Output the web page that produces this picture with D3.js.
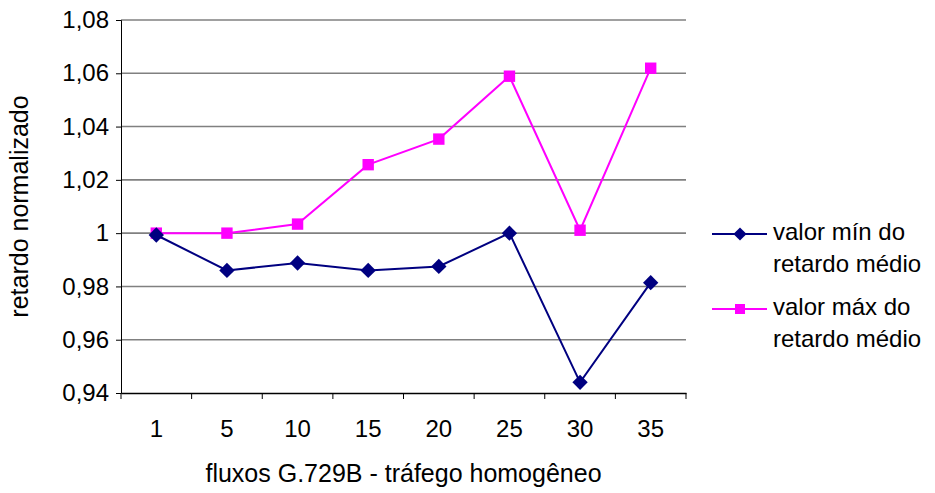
<!DOCTYPE html>
<html><head><meta charset="utf-8">
<script src="https://cdn.jsdelivr.net/npm/d3@7"></script>
<style>body{margin:0;background:#fff}svg{display:block;font-family:"Liberation Sans",Arial,sans-serif}</style>
</head><body><svg id="c" width="935" height="493"></svg>
<script>
const categories = ["1","5","10","15","20","25","30","35"];
const minValues = [0.9993, 0.986, 0.9888, 0.986, 0.9875, 1.0, 0.944, 0.9814];
const maxValues = [1.0, 1.0, 1.0034, 1.0257, 1.0353, 1.0589, 1.0011, 1.0619];
const yTicks = [0.94, 0.96, 0.98, 1.0, 1.02, 1.04, 1.06, 1.08];
const seriesNames = [["valor mín do","retardo médio"],["valor máx do","retardo médio"]];
const colors = ["#000080","#ff00ff"];

const svg = d3.select("#c");
const L=121, R=686, T=20, B=393;
const x = d3.scaleBand().domain(categories).range([L,R]);
const y = d3.scaleLinear().domain([0.94,1.08]).range([B,T]);
const fmt = v => (v===1 ? "1" : d3.format(".2f")(v).replace(".", ","));
const FF = "Liberation Sans, Arial, sans-serif";

// gridlines
svg.append("g").selectAll("line").data(yTicks.filter(v=>v>0.94)).join("line")
  .attr("x1",L).attr("x2",R).attr("y1",d=>y(d)).attr("y2",d=>y(d))
  .attr("stroke","#808080").attr("stroke-width",1.6);

// y axis
const ya = svg.append("g").attr("transform",`translate(${L},0)`)
  .call(d3.axisLeft(y).tickValues(yTicks).tickFormat(fmt).tickSize(5).tickPadding(7));
ya.select(".domain").attr("stroke","#000");
ya.selectAll("text").style("font-size","24px").attr("fill","#000").style("font-family",FF);
ya.selectAll(".tick line").attr("stroke","#000");

// x axis
const xa = svg.append("g").attr("transform",`translate(0,${B})`)
  .call(d3.axisBottom(x).tickSize(0).tickPadding(27));
xa.select(".domain").attr("stroke","#000").attr("stroke-width",1.6);
xa.selectAll("text").style("font-size","24px").attr("fill","#000").style("font-family",FF);
const bounds = categories.map(c=>x(c)).concat([R]);
svg.append("g").selectAll("line").data(bounds).join("line")
  .attr("x1",d=>d).attr("x2",d=>d).attr("y1",B).attr("y2",B+6).attr("stroke","#000");

// titles
svg.append("text").attr("x",(L+R)/2).attr("y",482).attr("text-anchor","middle")
  .style("font-size","25px").text("fluxos G.729B - tráfego homogêneo");
svg.append("text").attr("transform",`translate(28,${(T+B)/2}) rotate(-90)`).attr("text-anchor","middle")
  .style("font-size","25px").text("retardo normalizado");

const cx = c => x(c)+x.bandwidth()/2;
const line = d3.line().x((d,i)=>cx(categories[i])).y(d=>y(d));
const square = d3.symbol().type(d3.symbolSquare).size(130);

// max series
svg.append("path").datum(maxValues).attr("d",line).attr("fill","none").attr("stroke",colors[1]).attr("stroke-width",2);
svg.append("g").selectAll("path").data(maxValues).join("path")
  .attr("transform",(d,i)=>`translate(${cx(categories[i])},${y(d)})`).attr("d",square).attr("fill",colors[1]);
// min series
svg.append("path").datum(minValues).attr("d",line).attr("fill","none").attr("stroke",colors[0]).attr("stroke-width",2);
svg.append("g").selectAll("path").data(minValues).join("path")
  .attr("transform",(d,i)=>`translate(${cx(categories[i])},${y(d)})`).attr("d",d3.symbol().type(d3.symbolDiamond2).size(150)).attr("fill",colors[0]);

// legend
const leg = [{y:234, name:seriesNames[0], c:colors[0], sym:d3.symbol().type(d3.symbolDiamond2).size(110)},
             {y:309, name:seriesNames[1], c:colors[1], sym:d3.symbol().type(d3.symbolSquare).size(100)}];
leg.forEach(l=>{
  svg.append("line").attr("x1",712).attr("x2",767).attr("y1",l.y).attr("y2",l.y).attr("stroke",l.c).attr("stroke-width",2);
  svg.append("path").attr("transform",`translate(740,${l.y})`).attr("d",l.sym).attr("fill",l.c);
  const t = svg.append("text").attr("x",773).attr("y",l.y+6).style("font-size","24px");
  t.append("tspan").attr("x",773).text(l.name[0]);
  t.append("tspan").attr("x",773).attr("dy",32).text(l.name[1]);
});
</script></body></html>
